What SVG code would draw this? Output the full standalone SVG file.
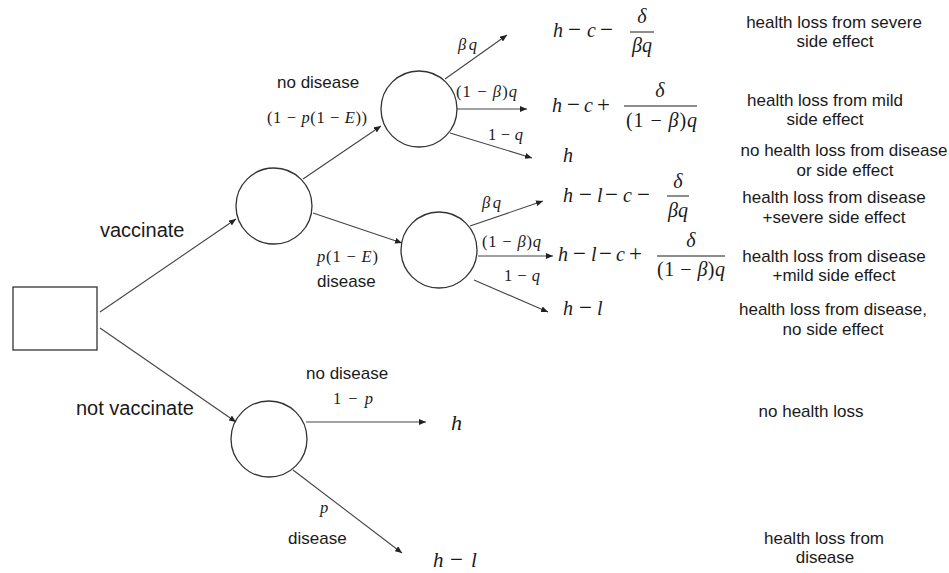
<svg xmlns="http://www.w3.org/2000/svg" width="949" height="573" viewBox="0 0 949 573">
<style>
.node{fill:none;stroke:#333;stroke-width:1.3}
.edge{stroke:#444;stroke-width:1.1;fill:none;marker-end:url(#ah)}
.lbl{font-family:"Liberation Sans",Arial,sans-serif;fill:#1a1a1a}
.big{font-size:20px}
.mid{font-size:17px}
.out{font-size:17px;text-anchor:middle}
.m{font-family:"Liberation Serif","Times New Roman",serif;fill:#1a1a1a}
.ms{font-size:16.5px}
.mb{font-size:20px}
.op{font-size:23px}
.i{font-style:italic}
.bar{stroke:#1a1a1a;stroke-width:1}
</style>
<defs>
<marker id="ah" markerUnits="userSpaceOnUse" markerWidth="8" markerHeight="6" refX="7" refY="3" orient="auto">
<path d="M0,0 L7,3 L0,6 z" fill="#222"/>
</marker>
</defs>
<rect width="949" height="573" fill="#fff"/>

<g id="connectors">
<line class="edge" x1="100" y1="312" x2="236" y2="219"/>
<line class="edge" x1="100" y1="328" x2="236" y2="422"/>
<line class="edge" x1="303" y1="179" x2="381" y2="126"/>
<line class="edge" x1="313" y1="213" x2="402" y2="243"/>
<line class="edge" x1="445" y1="79" x2="507" y2="35"/>
<line class="edge" x1="457" y1="109" x2="527" y2="109"/>
<line class="edge" x1="450" y1="133" x2="532" y2="158"/>
<line class="edge" x1="470" y1="226" x2="543" y2="201"/>
<line class="edge" x1="478" y1="256" x2="553" y2="256"/>
<line class="edge" x1="474" y1="280" x2="548" y2="312"/>
<line class="edge" x1="306" y1="422" x2="426" y2="422"/>
<line class="edge" x1="293" y1="470" x2="402" y2="553"/>
</g>

<g id="decision"><rect class="node" x="13" y="287" width="84" height="63"/></g>
<g id="chance-vaccinate"><circle class="node" cx="274" cy="206" r="38"/></g>
<g id="chance-nodisease"><circle class="node" cx="419" cy="109" r="38"/></g>
<g id="chance-disease"><circle class="node" cx="439" cy="250" r="38"/></g>
<g id="chance-notvaccinate"><circle class="node" cx="269" cy="439" r="38"/></g>

<g id="edge-labels">
<text class="lbl big" x="100" y="237">vaccinate</text>
<text class="lbl big" x="76" y="415">not vaccinate</text>
<text class="lbl mid" x="277" y="88">no disease</text>
<text class="m ms" x="267" y="123" textLength="100" lengthAdjust="spacing" xml:space="preserve">(1 − <tspan class="i">p</tspan>(1 − <tspan class="i">E</tspan>))</text>
<text class="m ms" x="317" y="262" textLength="61" lengthAdjust="spacing" xml:space="preserve"><tspan class="i">p</tspan>(1 − <tspan class="i">E</tspan>)</text>
<text class="lbl mid" x="317" y="287">disease</text>
<text class="m ms i" x="458" y="50" textLength="19" lengthAdjust="spacing">βq</text>
<text class="m ms" x="456" y="97" textLength="61" lengthAdjust="spacing" xml:space="preserve">(1 − <tspan class="i">β</tspan>)<tspan class="i">q</tspan></text>
<text class="m ms" x="488" y="140" textLength="35" lengthAdjust="spacing" xml:space="preserve">1 − <tspan class="i">q</tspan></text>
<text class="m ms i" x="482" y="208" textLength="19" lengthAdjust="spacing">βq</text>
<text class="m ms" x="482" y="247" textLength="59" lengthAdjust="spacing" xml:space="preserve">(1 − <tspan class="i">β</tspan>)<tspan class="i">q</tspan></text>
<text class="m ms" x="504" y="281" textLength="36" lengthAdjust="spacing" xml:space="preserve">1 − <tspan class="i">q</tspan></text>
<text class="lbl mid" x="306" y="379">no disease</text>
<text class="m ms" x="333" y="404" textLength="40" lengthAdjust="spacing" xml:space="preserve">1 − <tspan class="i">p</tspan></text>
<text class="m ms i" x="320" y="513">p</text>
<text class="lbl mid" x="288" y="544">disease</text>
</g>

<g id="payoff-1">
<text class="m mb"><tspan class="i" x="553" y="37">h</tspan><tspan class="op" x="568" y="37">−</tspan><tspan class="i" x="587" y="37">c</tspan><tspan class="op" x="600" y="37">−</tspan></text>
<text class="m mb i" x="642" y="23" text-anchor="middle">δ</text>
<line class="bar" x1="630" y1="32" x2="654" y2="32"/>
<text class="m mb i" x="642" y="52" text-anchor="middle">βq</text>
</g>
<g id="payoff-2">
<text class="m mb"><tspan class="i" x="552" y="112">h</tspan><tspan class="op" x="567" y="112">−</tspan><tspan class="i" x="584" y="112">c</tspan><tspan class="op" x="597" y="112">+</tspan></text>
<text class="m mb i" x="660" y="97" text-anchor="middle">δ</text>
<line class="bar" x1="624" y1="106" x2="697" y2="106"/>
<text class="m mb" x="626" y="127" textLength="71" lengthAdjust="spacing" xml:space="preserve">(1 − <tspan class="i">β</tspan>)<tspan class="i">q</tspan></text>
</g>
<g id="payoff-3"><text class="m mb i" x="563" y="162">h</text></g>
<g id="payoff-4">
<text class="m mb"><tspan class="i" x="563" y="202">h</tspan><tspan class="op" x="579" y="202">−</tspan><tspan class="i" x="597" y="202">l</tspan><tspan class="op" x="605" y="202">−</tspan><tspan class="i" x="623" y="202">c</tspan><tspan class="op" x="637" y="202">−</tspan></text>
<text class="m mb i" x="678" y="188" text-anchor="middle">δ</text>
<line class="bar" x1="667" y1="196" x2="689" y2="196"/>
<text class="m mb i" x="678" y="217" text-anchor="middle">βq</text>
</g>
<g id="payoff-5">
<text class="m mb"><tspan class="i" x="558" y="261">h</tspan><tspan class="op" x="573" y="261">−</tspan><tspan class="i" x="591" y="261">l</tspan><tspan class="op" x="599" y="261">−</tspan><tspan class="i" x="616" y="261">c</tspan><tspan class="op" x="629" y="261">+</tspan></text>
<text class="m mb i" x="691" y="247" text-anchor="middle">δ</text>
<line class="bar" x1="657" y1="256" x2="725" y2="256"/>
<text class="m mb" x="657" y="276" textLength="68" lengthAdjust="spacing" xml:space="preserve">(1 − <tspan class="i">β</tspan>)<tspan class="i">q</tspan></text>
</g>
<g id="payoff-6">
<text class="m mb"><tspan class="i" x="563" y="315">h</tspan><tspan class="op" x="579" y="315">−</tspan><tspan class="i" x="597" y="315">l</tspan></text>
</g>
<g id="payoff-7"><text class="m i" x="451" y="430" style="font-size:22px">h</text></g>
<g id="payoff-8">
<text class="m" style="font-size:21px"><tspan class="i" x="433" y="567">h</tspan><tspan class="op" x="450" y="567">−</tspan><tspan class="i" x="471" y="567">l</tspan></text>
</g>

<g id="outcomes">
<text class="lbl out" x="834" y="28">health loss from severe</text>
<text class="lbl out" x="835" y="47">side effect</text>
<text class="lbl out" x="825" y="106">health loss from mild</text>
<text class="lbl out" x="825" y="125">side effect</text>
<text class="lbl out" x="844" y="156">no health loss from disease</text>
<text class="lbl out" x="845" y="176">or side effect</text>
<text class="lbl out" x="834" y="203">health loss from disease</text>
<text class="lbl out" x="834" y="223">+severe side effect</text>
<text class="lbl out" x="834" y="262">health loss from disease</text>
<text class="lbl out" x="834" y="281">+mild side effect</text>
<text class="lbl out" x="833" y="315">health loss from disease,</text>
<text class="lbl out" x="833" y="335">no side effect</text>
<text class="lbl out" x="811" y="417">no health loss</text>
<text class="lbl out" x="824" y="544">health loss from</text>
<text class="lbl out" x="825" y="563">disease</text>
</g>
</svg>
